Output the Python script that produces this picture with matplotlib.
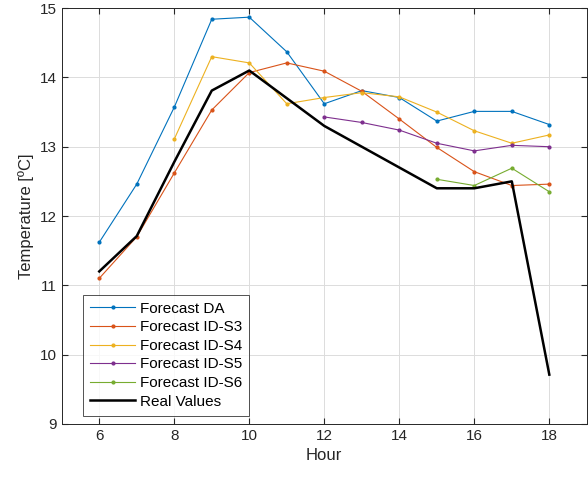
import numpy as np
import matplotlib.pyplot as plt

plt.rcParams['font.family'] = ['Liberation Sans', 'DejaVu Sans']

hours = np.arange(6, 19)

# Forecast values (nan where a series has no forecast)
nan = np.nan
da = [11.62, 12.46, 13.57, 14.84, 14.87, 14.37, 13.62, 13.81, 13.71, 13.37, 13.51, 13.51, 13.32]
id_s3 = [11.10, 11.70, 12.62, 13.53, 14.07, 14.21, 14.09, 13.80, 13.40, 12.99, 12.64, 12.44, 12.46]
id_s4 = [nan, nan, 13.11, 14.30, 14.21, 13.62, 13.71, 13.78, 13.72, 13.50, 13.23, 13.05, 13.17]
id_s5 = [nan, nan, nan, nan, nan, nan, 13.43, 13.35, 13.24, 13.05, 12.94, 13.02, 13.00]
id_s6 = [nan, nan, nan, nan, nan, nan, nan, nan, nan, 12.53, 12.44, 12.69, 12.35]
real = [11.20, 11.71, 12.78, 13.81, 14.10, 13.70, 13.30, 13.00, 12.70, 12.40, 12.40, 12.50, 9.71]

series = [
    ("Forecast DA", da, (0, 0.447, 0.741)),
    ("Forecast ID-S3", id_s3, (0.85, 0.325, 0.098)),
    ("Forecast ID-S4", id_s4, (0.929, 0.694, 0.125)),
    ("Forecast ID-S5", id_s5, (0.494, 0.184, 0.556)),
    ("Forecast ID-S6", id_s6, (0.466, 0.674, 0.188)),
]

fig = plt.figure(figsize=(5.88, 4.8), dpi=100)
ax = fig.add_axes([0.105, 0.117, 0.893, 0.866])

for name, vals, col in series:
    ax.plot(hours, vals, color=col, lw=0.8, marker='.', ms=4, label=name)
ax.plot(hours, real, color='black', lw=1.8, label="Real Values")

ax.set_xlim(5, 19)
ax.set_ylim(9, 15)
ax.set_xticks(np.arange(6, 19, 2))
ax.set_yticks(np.arange(9, 16, 1))
ax.grid(True, color='#dcdcdc', lw=0.7)
ax.set_axisbelow(True)
ax.tick_params(direction='in', top=True, right=True, labelsize=11, colors='#262626', length=4)
for s in ax.spines.values():
    s.set_color('#262626')
    s.set_linewidth(0.7)

ax.set_xlabel("Hour", fontsize=12, color='#262626')
ax.set_ylabel("Temperature [ºC]", fontsize=12, color='#262626')

leg = ax.legend(loc='lower left', bbox_to_anchor=(0.04, 0.02), borderaxespad=0,
                fontsize=11, frameon=True, fancybox=False, edgecolor='#262626',
                handlelength=3.0, borderpad=0.45, labelspacing=0.3, handletextpad=0.3)
leg.get_frame().set_linewidth(0.7)

fig.savefig("out.png", dpi=100)
